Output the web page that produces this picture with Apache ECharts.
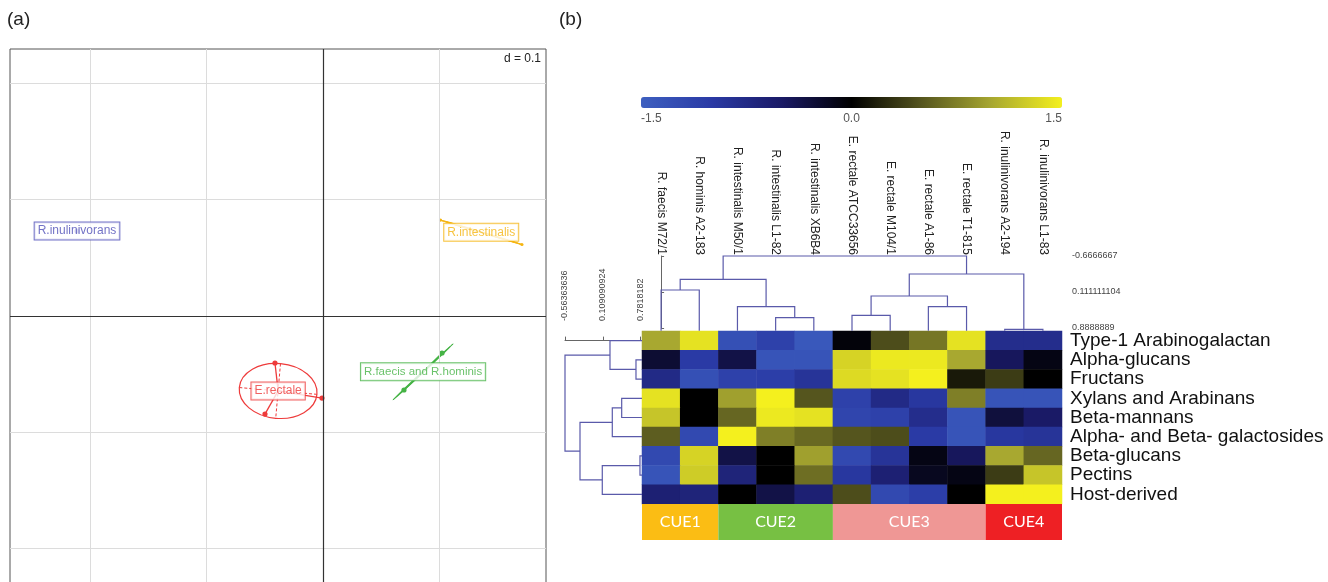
<!DOCTYPE html>
<html><head><meta charset="utf-8">
<script src="https://cdn.jsdelivr.net/npm/echarts@6/dist/echarts.min.js"></script>
<style>html,body{margin:0;padding:0;background:#fff}#c{width:1328px;height:582px}</style>
</head><body><div id="c"></div>
<script>
// ---------- Panel (a): class scatter (s.class style) ----------
const classNames = ['R.inulinivorans', 'R.intestinalis', 'E.rectale', 'R.faecis and R.hominis'];
const classColors = ['#4f4fb8', '#f5b512', '#ee3b3b', '#45b345'];
const classX = [-0.2115, 0.136, -0.0386, 0.086];
const classY = [0.0731, 0.0720, -0.0644, -0.0480];
const ellRx = [0, 0.0366, 0.0335, 0.0353];
const ellRy = [0, 0.0004, 0.0236, 0.0004];
const ellAngle = [0, -16.7, -5, 43];
const strainClass = [0, 1, 1, 2, 2, 2, 3, 3];
const strainX = [-0.2115, 0.101, 0.171, -0.0413, -0.0009, -0.0499, 0.0696, 0.1023];
const strainY = [0.0731, 0.0825, 0.0615, -0.0404, -0.0705, -0.0843, -0.0636, -0.0318];
const gridTicks = [-0.2, -0.1, 0.1, 0.2];

// ---------- Panel (b): heatmap ----------
const colNames = ['R. faecis M72/1', 'R. hominis A2-183', 'R. intestinalis M50/1', 'R. intestinalis L1-82',
  'R. intestinalis XB6B4', 'E. rectale ATCC33656', 'E. rectale M104/1', 'E. rectale A1-86',
  'E. rectale T1-815', 'R. inulinivorans A2-194', 'R. inulinivorans L1-83'];
const rowNames = ['Type-1 Arabinogalactan', 'Alpha-glucans', 'Fructans', 'Xylans and Arabinans',
  'Beta-mannans', 'Alpha- and Beta- galactosides', 'Beta-glucans', 'Pectins', 'Host-derived'];
const heatValues = [
  [1.0, 1.4, -1.3, -1.1, -1.4, -0.05, 0.45, 0.7, 1.4, -0.8, -0.8],
  [-0.25, -1.0, -0.35, -1.35, -1.35, 1.3, 1.45, 1.45, 1.0, -0.45, -0.1],
  [-0.75, -1.3, -1.1, -1.05, -0.9, 1.35, 1.4, 1.5, 0.15, 0.35, 0.0],
  [1.4, 0.0, 0.95, 1.5, 0.5, -1.1, -0.75, -0.95, 0.75, -1.35, -1.35],
  [1.2, 0.0, 0.6, 1.45, 1.4, -1.15, -1.1, -0.8, -1.35, -0.3, -0.5],
  [0.55, -1.2, 1.5, 0.75, 0.62, 0.5, 0.45, -1.0, -1.35, -0.95, -0.9],
  [-1.2, 1.3, -0.35, 0.0, 0.95, -1.2, -0.9, -0.1, -0.45, 1.0, 0.6],
  [-1.35, 1.25, -0.65, 0.0, 0.65, -0.95, -0.6, -0.15, -0.1, 0.35, 1.2],
  [-0.6, -0.65, 0.0, -0.35, -0.6, 0.45, -1.2, -1.05, 0.0, 1.5, 1.5]
];
const cbColors = ['#3d5fc0', '#2a3aa5', '#1a1a66', '#000000', '#55551e', '#a8a830', '#f4f01e'];

// column dendrogram (leaves 0..10, merge k creates node 11+k)
const colMergeA = [3, 2, 0, 13, 5, 7, 15, 9, 17, 14];
const colMergeB = [4, 11, 1, 12, 6, 8, 16, 10, 18, 19];
const colMergeH = [0.666, 0.429, 0.068, -0.163, 0.614, 0.429, 0.197, 0.917, -0.278, -0.6666667];
const colLeafH = 0.947;
const colScaleVals = [-0.6666667, 0.111111104, 0.8888889];
const colScaleLabels = ['-0.6666667', '0.111111104', '0.8888889'];

// row dendrogram (leaves 0..8, merge k creates node 9+k)
const rowMergeA = [1, 0, 3, 11, 6, 13, 12, 10];
const rowMergeB = [2, 9, 4, 5, 7, 8, 14, 15];
const rowMergeH = [0.698, 0.236, 0.444, 0.277, 0.769, 0.099, -0.297, -0.56363636];
const rowLeafH = 0.805;
const rowScaleVals = [-0.56363636, 0.109090924, 0.7818182];
const rowScaleLabels = ['-0.56363636', '0.109090924', '0.7818182'];

// CUE groups
const cueNames = ['CUE1', 'CUE2', 'CUE3', 'CUE4'];
const cueSizes = [2, 3, 4, 2];
const cueColors = ['#fbbd14', '#77c043', '#ef9795', '#ee2024'];

// ---------- helpers ----------
const FONT = 'Liberation Sans, Arial, sans-serif';
const dendroColor = '#5a5aaa';
function buildLinks(n, A, B, H, leafH) {
  const pos = [], ht = [];
  for (let i = 0; i < n; i++) { pos.push(i); ht.push(leafH); }
  const out = [];
  for (let k = 0; k < A.length; k++) {
    const a = A[k], b = B[k];
    out.push([pos[a], ht[a], pos[b], ht[b], H[k]]);
    pos.push((pos[a] + pos[b]) / 2); ht.push(H[k]);
  }
  return out;
}
function labelFor(v, vals, labels) {
  let best = 0;
  for (let i = 1; i < vals.length; i++) if (Math.abs(vals[i] - v) < Math.abs(vals[best] - v)) best = i;
  return labels[best];
}
const heatData = [];
heatValues.forEach((row, ri) => row.forEach((v, ci) => heatData.push([ci, ri, v])));
const colLinks = buildLinks(colNames.length, colMergeA, colMergeB, colMergeH, colLeafH);
const rowLinks = buildLinks(rowNames.length, rowMergeA, rowMergeB, rowMergeH, rowLeafH);

const chart = echarts.init(document.getElementById('c'), null, { renderer: 'canvas' });
const option = {
  animation: false,
  backgroundColor: '#fff',
  textStyle: { fontFamily: FONT },
  title: [
    { text: '(a)', left: 7, top: 10, padding: 0, textStyle: { fontSize: 19, fontWeight: 'normal', color: '#222', fontFamily: FONT } },
    { text: '(b)', left: 559, top: 10, padding: 0, textStyle: { fontSize: 19, fontWeight: 'normal', color: '#222', fontFamily: FONT } },
    { text: 'd = 0.1', right: 787, top: 53, padding: 0, textStyle: { fontSize: 12, fontWeight: 'normal', color: '#222', fontFamily: FONT } }
  ],
  grid: [
    { left: 10, top: 49, width: 536, height: 540, show: true, borderColor: '#555', borderWidth: 1, backgroundColor: 'transparent', outerBoundsMode: 'none', containLabel: false },
    { left: 642, top: 331, width: 420, height: 173, outerBoundsMode: 'none', containLabel: false },
    { left: 642, top: 256, width: 420, height: 72, outerBoundsMode: 'none', containLabel: false },
    { left: 565, top: 331, width: 77, height: 173, outerBoundsMode: 'none', containLabel: false },
    { left: 641, top: 97, width: 421, height: 11, outerBoundsMode: 'none', containLabel: false },
    { left: 642, top: 504, width: 420, height: 36, outerBoundsMode: 'none', containLabel: false }
  ],
  xAxis: [
    { gridIndex: 0, type: 'value', min: -0.2691, max: 0.1917, show: false },
    { gridIndex: 1, type: 'category', data: colNames, position: 'top',
      axisLine: { show: false }, axisTick: { show: false }, splitLine: { show: false },
      axisLabel: { interval: 0, rotate: 90, margin: 76, fontSize: 12, color: '#222', fontFamily: FONT } },
    { gridIndex: 2, type: 'value', min: -0.5, max: 10.5, show: false },
    { gridIndex: 3, type: 'value', min: -0.56363636, max: 0.805, position: 'top', offset: 4,
      axisLine: { show: true, lineStyle: { color: '#666', width: 1 } },
      axisTick: { show: true, length: 4, customValues: rowScaleVals, lineStyle: { color: '#666' } },
      axisLabel: { show: true, customValues: rowScaleVals, rotate: 90, margin: 6, fontSize: 9, color: '#444',
        fontFamily: FONT, formatter: v => labelFor(v, rowScaleVals, rowScaleLabels) },
      splitLine: { show: false } },
    { gridIndex: 4, type: 'value', min: -1.5, max: 1.5, interval: 1.5, position: 'bottom',
      axisLine: { show: false }, axisTick: { show: false }, splitLine: { show: false },
      axisLabel: { fontSize: 12, color: '#555', margin: 5, fontFamily: FONT, formatter: v => v.toFixed(1),
        alignMinLabel: 'left', alignMaxLabel: 'right' } },
    { gridIndex: 5, type: 'value', min: 0, max: 11, show: false }
  ],
  yAxis: [
    { gridIndex: 0, type: 'value', min: -0.2347, max: 0.2296, show: false },
    { gridIndex: 1, type: 'category', data: rowNames, inverse: true, position: 'right',
      axisLine: { show: false }, axisTick: { show: false }, splitLine: { show: false },
      axisLabel: { interval: 0, fontSize: 19, color: '#111', margin: 8, fontFamily: FONT } },
    { gridIndex: 2, type: 'value', min: -0.6666667, max: 0.8888889, inverse: true, position: 'right', offset: 4,
      axisLine: { show: true, lineStyle: { color: '#666', width: 1 } },
      axisTick: { show: true, length: 3, customValues: colScaleVals, lineStyle: { color: '#666' } },
      axisLabel: { show: true, customValues: colScaleVals, margin: 6, fontSize: 9, color: '#444', fontFamily: FONT,
        formatter: v => labelFor(v, colScaleVals, colScaleLabels) },
      splitLine: { show: false } },
    { gridIndex: 3, type: 'value', min: -0.5, max: 8.5, inverse: true, show: false },
    { gridIndex: 4, type: 'value', min: 0, max: 1, show: false },
    { gridIndex: 5, type: 'category', data: ['CUE'], show: false }
  ],
  visualMap: {
    type: 'continuous', min: -1.5, max: 1.5, seriesIndex: 4, orient: 'horizontal',
    left: 641, top: 97, itemWidth: 11, itemHeight: 421, calculable: false, padding: 0,
    hoverLink: false, inRange: { color: cbColors }
  },
  series: [
    // 0: panel (a) grid lines
    { type: 'scatter', xAxisIndex: 0, yAxisIndex: 0, data: [[0, 0]], symbolSize: 0.1,
      itemStyle: { color: 'rgba(0,0,0,0)' }, silent: true, z: 1,
      markLine: { silent: true, symbol: ['none', 'none'], label: { show: false }, animation: false,
        emphasis: { disabled: true },
        data: [
          ...gridTicks.map(v => ({ xAxis: v, lineStyle: { color: '#dcdcdc', width: 1, type: 'solid' } })),
          ...gridTicks.map(v => ({ yAxis: v, lineStyle: { color: '#dcdcdc', width: 1, type: 'solid' } })),
          { xAxis: 0, lineStyle: { color: '#333', width: 1.2, type: 'solid' } },
          { yAxis: 0, lineStyle: { color: '#333', width: 1.2, type: 'solid' } }
        ] } },
    // 1: ellipses with dashed axes
    { type: 'custom', xAxisIndex: 0, yAxisIndex: 0, z: 3, silent: true,
      data: classNames.map((n, i) => [classX[i], classY[i], ellRx[i], ellRy[i], ellAngle[i]]),
      renderItem: (params, api) => {
        const i = params.dataIndex;
        if (!(api.value(2) > 0)) return { type: 'group', children: [] };
        const c = api.coord([api.value(0), api.value(1)]);
        const s = api.size([api.value(2), api.value(3)]);
        const rx = s[0], ry = s[1];
        const ang = api.value(4) * Math.PI / 180;
        const cs = Math.cos(ang), sn = Math.sin(ang);
        const col = classColors[i];
        return { type: 'group', children: [
          { type: 'ellipse', shape: { cx: c[0], cy: c[1], rx: rx, ry: Math.max(ry, 0.3) },
            rotation: ang, originX: c[0], originY: c[1],
            style: { fill: 'none', stroke: col, lineWidth: 1.2 } },
          { type: 'line', shape: { x1: c[0] - rx * cs, y1: c[1] + rx * sn, x2: c[0] + rx * cs, y2: c[1] - rx * sn },
            style: { stroke: col, lineWidth: 1, lineDash: [3, 2] } },
          { type: 'line', shape: { x1: c[0] - ry * sn, y1: c[1] - ry * cs, x2: c[0] + ry * sn, y2: c[1] + ry * cs },
            style: { stroke: col, lineWidth: 1, lineDash: [3, 2] } }
        ] };
      } },
    // 2: strain points with star segments
    { type: 'custom', xAxisIndex: 0, yAxisIndex: 0, z: 4, silent: true,
      data: strainX.map((x, i) => [x, strainY[i], strainClass[i]]),
      renderItem: (params, api) => {
        const ci = api.value(2);
        const p = api.coord([api.value(0), api.value(1)]);
        const c = api.coord([classX[ci], classY[ci]]);
        const col = classColors[ci];
        return { type: 'group', children: [
          { type: 'line', shape: { x1: c[0], y1: c[1], x2: p[0], y2: p[1] }, style: { stroke: col, lineWidth: 1.3 } },
          { type: 'circle', shape: { cx: p[0], cy: p[1], r: ci === 1 ? 1.6 : 2.6 }, style: { fill: col } }
        ] };
      } },
    // 3: class labels
    { type: 'scatter', xAxisIndex: 0, yAxisIndex: 0, z: 10, symbolSize: 1, silent: true,
      itemStyle: { color: 'rgba(0,0,0,0)' },
      data: classNames.map((n, i) => ({ name: n, value: [classX[i], classY[i]],
        label: { color: classColors[i], borderColor: classColors[i], fontSize: i === 3 ? 11.5 : 12 } })),
      label: { show: true, position: 'inside', formatter: '{b}', fontFamily: FONT, backgroundColor: '#fff',
        borderWidth: 1, padding: [3, 3, 2, 3] } },
    // 4: heatmap
    { type: 'heatmap', xAxisIndex: 1, yAxisIndex: 1, data: heatData, emphasis: { disabled: true }, silent: true },
    // 5: column dendrogram
    { type: 'custom', xAxisIndex: 2, yAxisIndex: 2, silent: true, clip: false, data: colLinks,
      renderItem: (params, api) => {
        const p1 = api.coord([api.value(0), api.value(1)]);
        const p1t = api.coord([api.value(0), api.value(4)]);
        const p2t = api.coord([api.value(2), api.value(4)]);
        const p2 = api.coord([api.value(2), api.value(3)]);
        return { type: 'polyline', shape: { points: [p1, p1t, p2t, p2] },
          style: { fill: 'none', stroke: dendroColor, lineWidth: 1.2 } };
      } },
    // 6: row dendrogram
    { type: 'custom', xAxisIndex: 3, yAxisIndex: 3, silent: true, clip: false, data: rowLinks,
      renderItem: (params, api) => {
        const p1 = api.coord([api.value(1), api.value(0)]);
        const p1t = api.coord([api.value(4), api.value(0)]);
        const p2t = api.coord([api.value(4), api.value(2)]);
        const p2 = api.coord([api.value(3), api.value(2)]);
        return { type: 'polyline', shape: { points: [p1, p1t, p2t, p2] },
          style: { fill: 'none', stroke: dendroColor, lineWidth: 1.2 } };
      } },
    // 7: colour-bar tick axis holder
    { type: 'scatter', xAxisIndex: 4, yAxisIndex: 4, data: [], silent: true },
    // 8..: CUE bar
    ...cueNames.map((n, i) => ({
      type: 'bar', xAxisIndex: 5, yAxisIndex: 5, stack: 'cue', name: n, data: [cueSizes[i]],
      barWidth: '100%', silent: true, itemStyle: { color: cueColors[i] },
      label: { show: true, position: 'inside', formatter: n, color: '#fff', fontSize: 16, fontFamily: 'Lato, Open Sans, sans-serif' }
    }))
  ]
};
chart.setOption(option);
</script>
</body></html>
